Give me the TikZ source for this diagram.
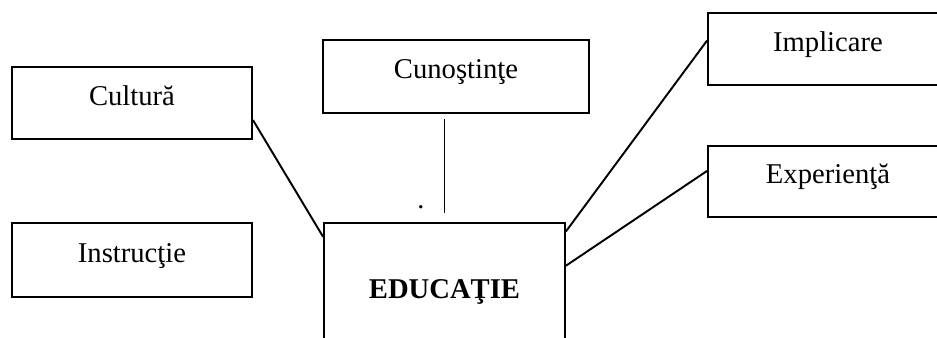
\documentclass[tikz,border=0pt]{standalone}
\usepackage{fontspec}
\setmainfont{Liberation Serif}
\usetikzlibrary{calc}

\begin{document}
\begin{tikzpicture}[x=0.02cm,y=-0.02cm,line width=1.1pt,
	boks/.style={draw,rectangle,inner sep=0pt,minimum width=4.8cm,
		minimum height=1.44cm,text height=0.62em,text depth=0.38em,
		font=\fontsize{16.3}{19}\selectfont}]
	\clip (0,0) rectangle (937,338);
	\node[boks] (cul) at (132,103) {Cultură};
	\node[boks, minimum height=1.48cm] (ins) at (132,260) {Instrucţie};
	\node[boks, minimum width=5.32cm, minimum height=1.46cm] (cun) at (456,76.5) {Cunoştinţe};
	\node[boks, minimum width=4.82cm, minimum height=2.92cm] (edu) at (444.5,296) {\bfseries EDUCAŢIE};
	\node[boks] (imp) at (828,49) {Implicare};
	\node[boks, minimum height=1.42cm] (exp) at (828,181.5) {Experienţă};
	\node[font=\fontsize{16}{19}\selectfont, inner sep=0pt] (pt) at (421,207) {.};
	\draw (cul.-8)--(edu.154.3);
	\draw ($(cun.south -| edu.north)+(0,5)$)--($(edu.north)+(0,-9)$);
	\draw (imp.176.2)--(edu.28.7);
	\draw (exp.175)--(edu.14.4);
\end{tikzpicture}
\end{document}
